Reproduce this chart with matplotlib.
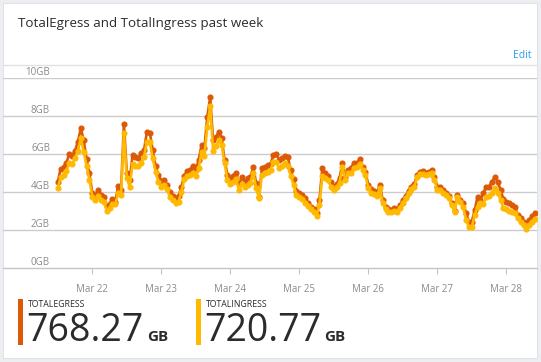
import numpy as np
import pandas as pd
import matplotlib
matplotlib.use("Agg")
import matplotlib.pyplot as plt
import matplotlib.dates as mdates
from matplotlib.patches import Rectangle

plt.rcParams['font.family'] = ['Open Sans', 'DejaVu Sans']

# hourly values, Mar 21 12:00 -> Mar 28 10:00 (GB)
egress = [4.56, 5.23, 5.32, 5.56, 6.02, 5.93, 6.18, 6.67, 7.37, 6.75,
          5.74, 5.00, 3.95, 3.81, 4.12, 3.84, 3.74, 3.28, 3.39, 3.63,
          3.51, 4.33, 4.12, 7.60, 5.04, 4.65, 5.95, 5.84, 5.82, 6.05,
          6.23, 7.19, 7.14, 6.23, 5.39, 4.91, 4.61, 4.65, 4.39, 4.04,
          3.81, 3.68, 3.81, 4.30, 4.86, 5.12, 5.18, 5.39, 5.18, 5.70,
          6.49, 6.32, 7.98, 9.00, 6.75, 6.89, 7.19, 6.84, 5.70, 4.91,
          4.74, 4.86, 5.04, 4.47, 4.79, 4.56, 4.74, 4.82, 5.32, 4.47,
          3.77, 5.26, 5.32, 5.44, 5.49, 5.96, 6.02, 5.70, 5.79, 5.91,
          5.84, 5.18, 4.68, 4.09, 3.98, 3.86, 3.68, 3.46, 3.25, 3.11,
          2.93, 3.60, 5.26, 5.04, 4.86, 4.56, 4.30, 4.44, 4.74, 5.56,
          4.79, 5.18, 5.26, 5.56, 5.53, 5.75, 5.35, 5.09, 4.39, 4.16,
          4.09, 3.95, 4.39, 3.60, 3.25, 3.11, 3.07, 3.16, 3.11, 3.33,
          3.60, 3.81, 4.09, 4.30, 4.44, 4.91, 5.09, 5.12, 5.04, 5.09,
          5.18, 4.79, 4.30, 4.30, 4.12, 3.95, 3.81, 3.42, 3.04, 3.86,
          3.60, 3.42, 2.89, 2.46, 2.46, 3.07, 3.77, 3.60, 3.95, 4.30,
          4.30, 4.56, 4.79, 4.56, 4.12, 3.63, 3.51, 3.46, 3.33, 3.25,
          2.81, 2.63, 2.46, 2.28, 2.54, 2.75, 2.93]
ingress = [4.21, 4.79, 4.91, 5.12, 5.56, 5.49, 5.79, 6.18, 6.88, 6.14,
           5.39, 4.65, 3.77, 3.60, 3.81, 3.60, 3.50, 3.04, 3.16, 3.39,
           3.39, 3.95, 3.86, 7.14, 4.74, 4.30, 5.49, 5.39, 5.39, 5.53,
           5.88, 6.67, 6.67, 5.79, 5.09, 4.56, 4.30, 4.39, 4.16, 3.74,
           3.60, 3.42, 3.50, 4.04, 4.68, 4.86, 4.91, 5.04, 4.86, 5.26,
           6.14, 5.91, 7.46, 8.54, 6.19, 6.44, 6.75, 6.49, 5.53, 4.65,
           4.44, 4.56, 4.68, 4.12, 4.46, 4.30, 4.39, 4.51, 5.04, 4.21,
           3.68, 4.91, 5.00, 5.09, 5.18, 5.61, 5.61, 5.26, 5.39, 5.53,
           5.39, 4.86, 4.39, 3.86, 3.74, 3.63, 3.46, 3.28, 3.11, 2.98,
           2.75, 3.33, 4.86, 4.74, 4.65, 4.30, 4.12, 4.26, 4.51, 5.32,
           4.65, 5.00, 5.00, 5.26, 5.32, 5.49, 5.18, 4.91, 4.21, 3.98,
           3.91, 3.81, 4.21, 3.45, 3.12, 2.98, 2.94, 3.02, 2.98, 3.20,
           3.46, 3.68, 3.95, 4.16, 4.30, 4.79, 4.95, 4.98, 4.91, 4.95,
           5.04, 4.65, 4.12, 4.12, 3.95, 3.86, 3.72, 3.33, 2.98, 3.77,
           3.51, 3.25, 2.54, 2.16, 2.16, 2.81, 3.25, 3.42, 3.39, 3.74,
           3.81, 3.98, 4.21, 3.98, 3.60, 3.16, 3.11, 3.04, 2.98, 2.89,
           2.63, 2.46, 2.28, 2.05, 2.28, 2.46, 2.58]
ytick_vals = [0, 2, 4, 6, 8, 10]
ytick_labels = ["0GB", "2GB", "4GB", "6GB", "8GB", "10GB"]
xtick_days = ["2017-03-22", "2017-03-23", "2017-03-24", "2017-03-25",
              "2017-03-26", "2017-03-27", "2017-03-28"]
total_egress = "768.27"
total_ingress = "720.77"

c_egress = '#dc5a07'
c_ingress = '#ffb900'
W, H = 541, 362

t = pd.date_range("2017-03-21 12:00", periods=len(egress), freq="h")

fig = plt.figure(figsize=(W / 100, H / 100), dpi=100, facecolor='#eceef2')

def fx(px):
    return px / W

def fy(py):
    return 1 - py / H

# white card
fig.patches.append(Rectangle((fx(3), fy(358)), fx(533.5), 355 / H, transform=fig.transFigure,
                             facecolor='white', edgecolor='#dcdde2', lw=0.6, zorder=-5))
fig.add_artist(plt.Line2D([fx(3), fx(536.5)], [fy(64.5), fy(64.5)], color='#e1e1e1', lw=1,
                          transform=fig.transFigure))

fig.text(fx(17.5), fy(24), "TotalEgress and TotalIngress past week", fontsize=9.6,
         color='#2b2b2b', va='center', ha='left')
fig.text(fx(531), fy(55), "Edit", fontsize=7.5, color='#2aa0e6', va='center', ha='right')

ax = fig.add_axes([fx(3), fy(268.3), (536.5 - 3) / W, (268.3 - 78.3) / H], zorder=2)
ax.set_facecolor('none')
start = t[0] - pd.Timedelta(hours=19.06)
end = t[0] + pd.Timedelta(hours=166.5)
ax.set_xlim(start, end)
ax.set_ylim(0, 10)

for v in ytick_vals[1:]:
    ax.axhline(v, color='#cccccc', lw=1, zorder=1)
for v, lab in zip(ytick_vals, ytick_labels):
    ax.text((50 - 3) / 533.5, v + 0.33, lab, transform=ax.get_yaxis_transform(),
            ha='right', va='center', fontsize=7, color='#8a8a8a')

ax.plot(t, egress, color=c_egress, lw=1.9, marker='o', ms=3.4, zorder=3)
ax.plot(t, ingress, color=c_ingress, lw=1.9, marker='o', ms=3.4, zorder=4)

for s in ['top', 'left', 'right']:
    ax.spines[s].set_visible(False)
ax.spines['bottom'].set_color('#c4c4c4')
ax.spines['bottom'].set_linewidth(1)
ax.set_yticks([])
ax.set_xticks(pd.to_datetime(xtick_days))
ax.xaxis.set_major_formatter(mdates.DateFormatter('%b %d'))
ax.tick_params(axis='x', length=4, color='#c4c4c4', labelsize=7, labelcolor='#8a8a8a', pad=7)

# totals
fig.patches.append(Rectangle((fx(17.8), fy(345)), fx(5), 46 / H, transform=fig.transFigure,
                             facecolor=c_egress, edgecolor='none'))
fig.patches.append(Rectangle((fx(196), fy(345)), fx(5), 46 / H, transform=fig.transFigure,
                             facecolor=c_ingress, edgecolor='none'))
fig.text(fx(28), fy(304.5), "TOTALEGRESS", fontsize=6.3, color='#2b2b2b', va='center', ha='left')
fig.text(fx(206), fy(304.5), "TOTALINGRESS", fontsize=6.3, color='#2b2b2b', va='center', ha='left')
fig.text(fx(26.5), fy(341), total_egress, fontsize=27, color='#2b2b2b', va='baseline', ha='left')
fig.text(fx(204.5), fy(341), total_ingress, fontsize=27, color='#2b2b2b', va='baseline', ha='left')
fig.text(fx(147), fy(341), "GB", fontsize=11, fontweight='bold', color='#2b2b2b', va='baseline', ha='left')
fig.text(fx(324), fy(341), "GB", fontsize=11, fontweight='bold', color='#2b2b2b', va='baseline', ha='left')

fig.savefig("out.png", dpi=100, facecolor=fig.get_facecolor())
